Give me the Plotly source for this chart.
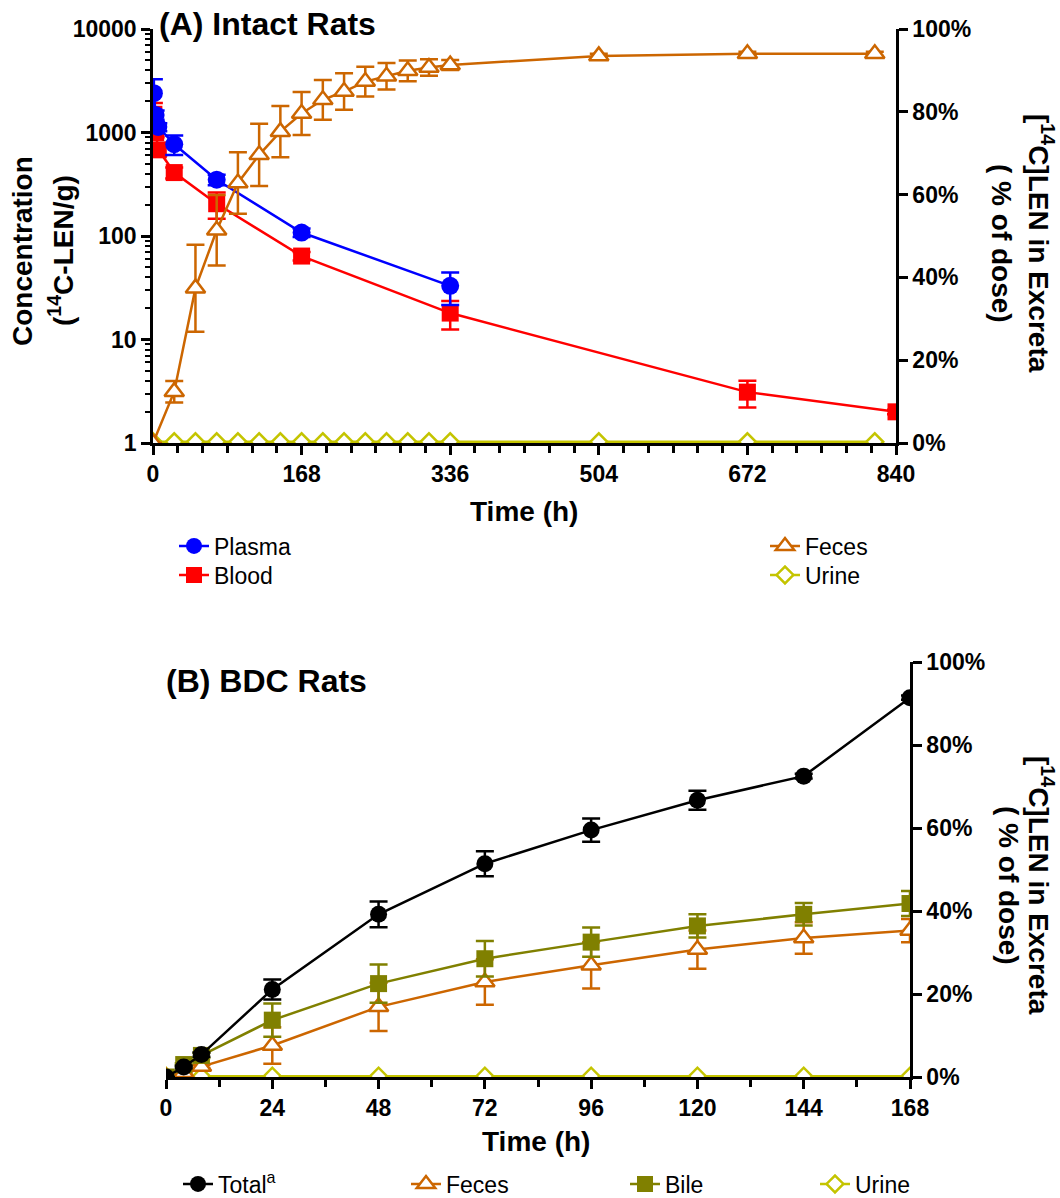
import plotly.graph_objects as go

W, H = 1060, 1198

# ---------------- Data: (A) Intact rats ----------------
plasma_t = [1, 3, 6, 24, 72, 168, 336]
plasma = [2400, 1480, 1130, 770, 350, 108, 33]
plasma_err = [870, 150, 100, 165, 40, 10, 11.5]

blood_t = [1, 3, 6, 24, 72, 168, 336, 672, 840]
blood = [1500, 1000, 680, 410, 205, 64, 18, 3.1, 2.0]
blood_err = [430, 100, 80, 50, 58, 6, 5.5, 0.9, 0.1]

feces_a_t = [0, 24, 48, 72, 96, 120, 144, 168, 192, 216, 240, 264, 288, 312, 336, 504, 672, 816]
feces_a = [0, 12.4, 37.4, 51.4, 62.8, 69.6, 75.2, 79.6, 82.9, 84.9, 87.3, 88.6, 89.9, 90.7, 91.3, 93.5, 94.0, 94.0]
feces_a_err = [0, 2.6, 10.5, 8.5, 7.4, 7.5, 6.2, 5.2, 4.8, 4.4, 3.6, 3.2, 2.5, 2.0, 1.2, 0.5, 0.5, 0.5]

urine_a_t = feces_a_t
urine_a = [0.3] * len(urine_a_t)

# ---------------- Data: (B) BDC rats ----------------
bdc_t = [0, 4, 8, 24, 48, 72, 96, 120, 144, 168]
total_b = [0, 2.4, 5.4, 21.1, 39.2, 51.4, 59.5, 66.7, 72.5, 91.4]
total_b_err = [0, 0.3, 0.5, 2.4, 3.1, 3.0, 2.8, 2.3, 0.6, 0.5]
bile_b = [0, 3.0, 5.2, 13.7, 22.5, 28.5, 32.5, 36.4, 39.2, 41.8]
bile_b_err = [0, 0.3, 0.6, 4.0, 4.6, 4.3, 3.5, 2.8, 2.7, 3.0]
feces_b = [0, 1.0, 2.5, 7.6, 16.9, 22.9, 26.9, 30.7, 33.5, 35.3]
feces_b_err = [0, 0.2, 0.4, 4.4, 5.8, 5.5, 5.6, 4.6, 3.8, 2.8]
urine_b = [0.2] * len(bdc_t)

# tick labels
xa_ticks = [0, 168, 336, 504, 672, 840]
ya_ticks = [1, 10, 100, 1000, 10000]
ya_ticktext = ["1", "10", "100", "1000", "10000"]
pct_ticks = [0, 20, 40, 60, 80, 100]
pct_text = ["0%", "20%", "40%", "60%", "80%", "100%"]
xb_ticks = [0, 24, 48, 72, 96, 120, 144, 168]

BLUE = "#0000FF"
RED = "#FF0000"
ORANGE = "#CC6600"
YEL = "#C4C400"
OLIVE = "#808000"
BLACK = "#000000"

FONT = "Liberation Sans, Arial, sans-serif"


def px(x):
    return x / W


def py(y):
    return 1 - y / H


# log-axis minor tick positions (2..9 in each decade)
log_minor = [m * 10 ** d for d in range(4) for m in range(2, 10)]

fig = go.Figure()


def err(arr, color):
    return dict(type="data", array=arr, color=color, thickness=2.5, width=9, visible=True)


def add(x, y, name, color, symbol, size, xa, ya, legend, e=None, fill=None, lw=2.5):
    mk = dict(symbol=symbol, size=size, color=fill if fill else color,
              line=dict(color=color, width=lw if fill else 0))
    fig.add_trace(go.Scatter(
        x=x, y=y, name=name, mode="lines+markers",
        line=dict(color=color, width=2.5), marker=mk,
        error_y=err(e, color) if e is not None else None,
        xaxis=xa, yaxis=ya, legend=legend, showlegend=True))


# Panel A
add(blood_t, blood, "Blood", RED, "square", 17, "x", "y", "legend2", blood_err)
add(plasma_t, plasma, "Plasma", BLUE, "circle", 18, "x", "y", "legend", plasma_err)
add(urine_a_t, urine_a, "Urine", YEL, "diamond", 13, "x", "y2", "legend4", None, fill="white")
add(feces_a_t, feces_a, "Feces", ORANGE, "triangle-up", 17, "x", "y2", "legend3", feces_a_err, fill="white")

# Panel B
add(bdc_t, urine_b, "Urine", YEL, "diamond", 13, "x2", "y3", "legend8", None, fill="white")
add(bdc_t, feces_b, "Feces", ORANGE, "triangle-up", 17, "x2", "y3", "legend6", feces_b_err, fill="white")
add(bdc_t, bile_b, "Bile", OLIVE, "square", 17, "x2", "y3", "legend7", bile_b_err)
add(bdc_t, total_b, "Total<sup>a</sup>", BLACK, "circle", 17, "x2", "y3", "legend5", total_b_err)

tickfont = dict(family=FONT, size=23, color="black", weight="bold")
axline = dict(showline=True, linecolor="black", linewidth=2.5, ticks="outside",
              ticklen=9, tickwidth=2.5, tickcolor="black", showgrid=False,
              zeroline=False, tickfont=tickfont, automargin=False)

fig.update_layout(
    width=W, height=H,
    margin=dict(l=0, r=0, t=0, b=0, autoexpand=False),
    paper_bgcolor="white", plot_bgcolor="white",
    font=dict(family=FONT, color="black"),
    xaxis=dict(domain=[px(153), px(896)], range=[0, 840], anchor="y",
               tickvals=xa_ticks,
               minor=dict(dtick=28, tick0=0, ticks="outside", ticklen=7, tickwidth=2.5,
                          tickcolor="black", showgrid=False),
               **axline),
    yaxis=dict(domain=[py(443), py(29)], type="log", range=[0, 4], anchor="x",
               tickvals=ya_ticks, ticktext=ya_ticktext,
               minor=dict(tickvals=log_minor, ticks="outside", ticklen=5, tickwidth=2,
                          tickcolor="black", showgrid=False),
               **axline),
    yaxis2=dict(domain=[py(443), py(29)], range=[0, 100], overlaying="y", side="right",
                anchor="x", tickvals=pct_ticks, ticktext=pct_text, **axline),
    xaxis2=dict(domain=[px(166), px(910)], range=[0, 168], anchor="y3",
                tickvals=xb_ticks,
                minor=dict(dtick=12, tick0=0, ticks="outside", ticklen=7, tickwidth=2.5,
                           tickcolor="black", showgrid=False),
                **axline),
    yaxis3=dict(domain=[py(1077), py(662)], range=[0, 100], side="right", anchor="x2",
                tickvals=pct_ticks, ticktext=pct_text, **axline),
)

legfont = dict(family=FONT, size=23, color="black")
leg_pos = {
    "legend": (174, 546), "legend2": (174, 575),
    "legend3": (765, 546), "legend4": (765, 575),
    "legend5": (178, 1184), "legend6": (406, 1184),
    "legend7": (625, 1184), "legend8": (815, 1184),
}
for k, (lx, ly) in leg_pos.items():
    fig.update_layout({k: dict(x=px(lx), y=py(ly), xanchor="left", yanchor="middle",
                               font=legfont, bgcolor="rgba(0,0,0,0)", borderwidth=0,
                               itemclick=False, itemdoubleclick=False)})

ann = []


def text(x, y, t, size, bold=True, angle=0, xanchor="center"):
    ann.append(dict(x=px(x), y=py(y), xref="paper", yref="paper", text=t, showarrow=False,
                    textangle=angle, xanchor=xanchor, yanchor="middle",
                    font=dict(family=FONT, size=size, color="black",
                              weight="bold" if bold else "normal")))


text(157, 24, "(A) Intact Rats", 32, xanchor="left")
text(164, 681, "(B) BDC Rats", 32, xanchor="left")
text(524, 511, "Time (h)", 28)
text(536, 1141, "Time (h)", 28)
text(22, 251, "Concentration", 28, angle=-90)
text(61, 251, "(<sup>14</sup>C-LEN/g)", 28, angle=-90)
text(1041, 243, "[<sup>14</sup>C]LEN in Excreta", 28, angle=90)
text(1001, 243, "( % of dose)", 28, angle=90)
text(1041, 885, "[<sup>14</sup>C]LEN in Excreta", 28, angle=90)
text(1009, 885, "( % of dose)", 28, angle=90)
fig.update_layout(annotations=ann)

fig.write_html(
    "out.html",
    config={"displayModeBar": False},
    post_script="document.documentElement.style.margin='0';"
                "document.body.style.margin='0';"
                "document.body.style.overflow='hidden';",
)
